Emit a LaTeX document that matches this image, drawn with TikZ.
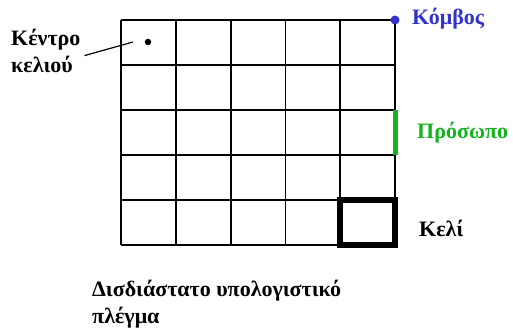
\documentclass[tikz,border=0pt]{standalone}
\usepackage{fontspec}
\setmainfont{Liberation Serif}[BoldFont={Liberation Serif Bold}]
\definecolor{nodeblue}{RGB}{50,50,205}
\definecolor{facegreen}{RGB}{20,180,30}
\begin{document}
\begin{tikzpicture}[x=1pt,y=-1pt,
    lbl/.style={font=\fontsize{22}{26.5}\selectfont\bfseries,inner sep=0pt},
    gridline/.style={line width=1.8pt}]
\useasboundingbox (0,0) rectangle (513,329);
\foreach \i in {0,...,5} {
    \draw[gridline] (121+\i*54.8,20) -- (121+\i*54.8,245);
    \draw[gridline] (121,20+\i*45) -- (395,20+\i*45);
}
\draw[line width=5.5pt] (340.2,200) rectangle (395,245);
\draw[facegreen,line width=5pt] (395,110) -- (395,155);
\node[circle,fill=black,inner sep=0pt,minimum size=6.5pt] (centre) at (148,42) {};
\node[circle,fill=nodeblue,inner sep=0pt,minimum size=9pt] (vertex) at (395,20) {};
\coordinate (lead) at (133,42);
\node[lbl,align=left,anchor=base west] (centrelbl) at (11,72) {Κέντρο\\κελιού};
\draw[line width=1.2pt,shorten <=4pt] ([yshift=-6pt]centrelbl.east) -- (lead);
\node[lbl,text=nodeblue,anchor=base west] (vertexlbl) at (412,25) {Κόμβος};
\node[lbl,text=facegreen,anchor=base west] (facelbl) at (417,138) {Πρόσωπο};
\node[lbl,anchor=base west] (celllbl) at (419,236) {Κελί};
\node[lbl,align=left,anchor=base west] (gridlbl) at (92,323) {Δισδιάστατο υπολογιστικό\\πλέγμα};
\end{tikzpicture}
\end{document}
